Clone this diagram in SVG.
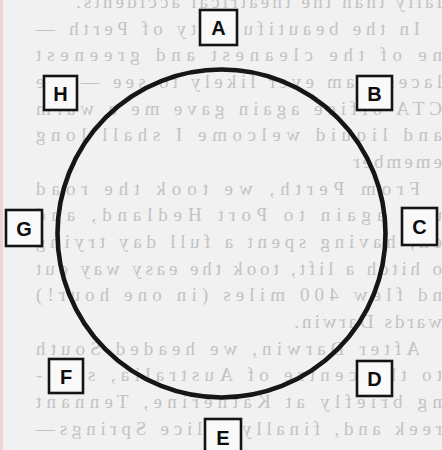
<svg xmlns="http://www.w3.org/2000/svg" width="442" height="450" viewBox="0 0 442 450">
  <defs>
    <style>
      .bleed text { font-family: "Liberation Serif", "Times New Roman", serif; font-size: 19px; fill: #c3c3c3; letter-spacing: 3px; }
      .box rect { fill: #f9f9f9; stroke: #141414; stroke-width: 2.6; }
      .box text { font-family: "Liberation Sans", Arial, sans-serif; font-size: 20px; font-weight: bold; fill: #0d0d0d; text-anchor: middle; }
      .ring { fill: none; stroke: #161616; stroke-width: 4.6; }
    </style>
  </defs>
  <rect x="0" y="0" width="442" height="450" fill="#f1f1f2"/>
  <rect x="0" y="0" width="3" height="450" fill="#f2d4d4"/>

  <!-- faint bleed-through text (mirrored) -->
  <g class="bleed" transform="translate(442,0) scale(-1,1)">
    <text x="0" y="8" textLength="369" lengthAdjust="spacing">ially than the theatrical accidents.</text>
    <text x="22" y="35" textLength="387" lengthAdjust="spacing">In the beautiful city of Perth —</text>
    <text x="0" y="61" textLength="409" lengthAdjust="spacing">ne of the cleanest and greenest</text>
    <text x="0" y="88" textLength="409" lengthAdjust="spacing">laces I am ever likely to see — the</text>
    <text x="0" y="115" textLength="409" lengthAdjust="spacing">CTA office again gave me a warm</text>
    <text x="0" y="141" textLength="409" lengthAdjust="spacing">and liquid welcome I shall long</text>
    <text x="0" y="168">emember</text>
    <text x="22" y="195" textLength="387" lengthAdjust="spacing">From Perth, we took the road</text>
    <text x="0" y="221" textLength="409" lengthAdjust="spacing">ugh again to Port Hedland, and</text>
    <text x="0" y="248" textLength="409" lengthAdjust="spacing">en, having spent a full day trying</text>
    <text x="0" y="275" textLength="409" lengthAdjust="spacing">o hitch a lift, took the easy way out</text>
    <text x="0" y="301" textLength="409" lengthAdjust="spacing">nd flew 400 miles (in one hour!)</text>
    <text x="0" y="328">wards Darwin.</text>
    <text x="22" y="355" textLength="387" lengthAdjust="spacing">After Darwin, we headed South</text>
    <text x="0" y="381" textLength="409" lengthAdjust="spacing">to the centre of Australia, stop-</text>
    <text x="0" y="408" textLength="409" lengthAdjust="spacing">ng briefly at Katherine, Tennant</text>
    <text x="0" y="435" textLength="409" lengthAdjust="spacing">reek and, finally, Alice Springs—</text>
  </g>

  <g id="connectors">
    <circle class="ring" cx="221.5" cy="233.5" r="164"/>
  </g>

  <g id="node-A" class="box"><rect x="200" y="10" width="37" height="35"/><text x="218.5" y="35">A</text></g>
  <g id="node-B" class="box"><rect x="357" y="76" width="35" height="34"/><text x="374.5" y="100.5">B</text></g>
  <g id="node-C" class="box"><rect x="402" y="208" width="35" height="37"/><text x="419.5" y="234">C</text></g>
  <g id="node-D" class="box"><rect x="357" y="361" width="35" height="35"/><text x="374.5" y="386">D</text></g>
  <g id="node-E" class="box"><rect x="205" y="419" width="36" height="36"/><text x="223" y="444.5">E</text></g>
  <g id="node-F" class="box"><rect x="49" y="359" width="34" height="34"/><text x="66" y="383.5">F</text></g>
  <g id="node-G" class="box"><rect x="6" y="210" width="36" height="36"/><text x="24" y="235.5">G</text></g>
  <g id="node-H" class="box"><rect x="44" y="76" width="33" height="34"/><text x="60.5" y="100.5">H</text></g>
</svg>
